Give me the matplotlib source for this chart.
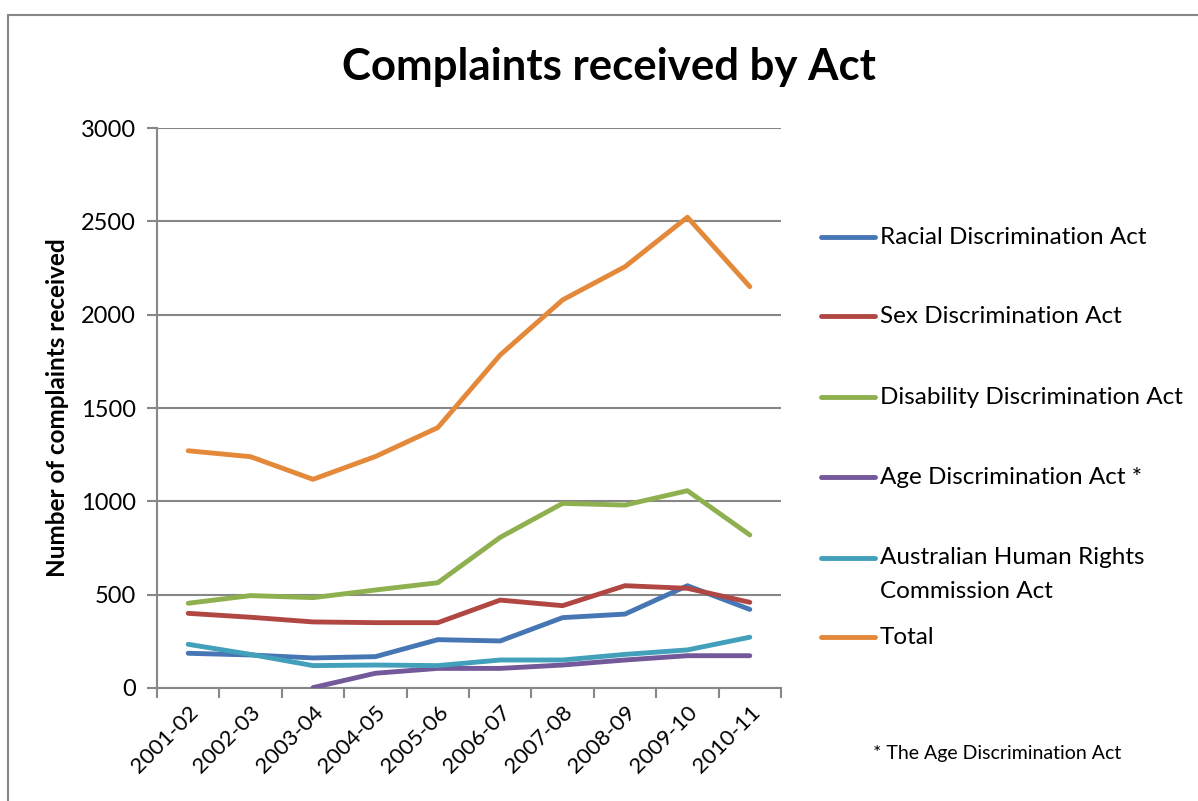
import numpy as np
from matplotlib import pyplot as plt
from matplotlib.lines import Line2D
from matplotlib.patches import Rectangle

years = ['2001-02', '2002-03', '2003-04', '2004-05', '2005-06',
         '2006-07', '2007-08', '2008-09', '2009-10', '2010-11']

racial = [186, 177, 161, 168, 259, 252, 377, 396, 548, 421]
sex = [400, 379, 354, 350, 350, 471, 441, 548, 534, 459]
disability = [454, 495, 484, 525, 564, 807, 989, 980, 1057, 820]
age = [np.nan, np.nan, 2, 79, 105, 105, 123, 150, 173, 173]
ahrc = [234, 180, 120, 123, 120, 150, 150, 180, 204, 272]
total = [1271, 1239, 1118, 1240, 1395, 1784, 2079, 2257, 2522, 2150]

series = [
    ('Racial Discrimination Act', racial, '#4676B4'),
    ('Sex Discrimination Act', sex, '#B14743'),
    ('Disability Discrimination Act', disability, '#8FB04F'),
    ('Age Discrimination Act *', age, '#74599A'),
    ('Australian Human Rights\nCommission Act', ahrc, '#42A0BA'),
    ('Total', total, '#E4883A'),
]

FONT = 'Lato'
GREY = '#878787'
W, H = 1198, 801

fig = plt.figure(figsize=(W / 100, H / 100), dpi=100)
ax = fig.add_axes([157 / W, 1 - 688 / H, 624 / W, 560 / H])

x = np.arange(len(years))
for name, vals, col in series:
    ax.plot(x, vals, color=col, lw=3.5, solid_capstyle='round', zorder=3)

ax.set_xlim(-0.5, len(years) - 0.5)
ax.set_ylim(0, 3000)
ax.set_yticks(np.arange(0, 3001, 500))
ax.yaxis.grid(True, color=GREY, lw=1.5)
ax.set_axisbelow(True)
for s in ['top', 'right']:
    ax.spines[s].set_visible(False)
for s in ['left', 'bottom']:
    ax.spines[s].set_color(GREY)
    ax.spines[s].set_linewidth(1.5)

ax.set_xticks(x)
ax.set_xticklabels(years, rotation=45, ha='right', va='top',
                   rotation_mode='anchor', fontsize=16, family=FONT)
ax.set_xticks(np.arange(-0.5, len(years), 1), minor=True)
ax.tick_params(axis='x', which='major', length=0, pad=10)
ax.tick_params(axis='x', which='minor', length=7, width=1.5, color=GREY)
ax.tick_params(axis='y', length=7, width=1.5, color=GREY, pad=8)
for lab in ax.get_yticklabels():
    lab.set_fontsize(17)
    lab.set_family(FONT)

ax.set_ylabel('Number of complaints received', fontsize=17.5,
              fontweight='bold', family=FONT, labelpad=9)

fig.text(609 / W, 1 - 67 / H, 'Complaints received by Act', ha='center',
         va='center', fontsize=31.5, fontweight='bold', family=FONT)

# legend drawn by hand so the two-line entry sits like the original
leg_y = [237, 316, 397, 477, 558, 637]
for (name, vals, col), yy in zip(series, leg_y):
    yf = 1 - yy / H
    fig.add_artist(Line2D([821 / W, 875 / W], [yf, yf], color=col, lw=3.5,
                          solid_capstyle='round', transform=fig.transFigure))
    for k, line in enumerate(name.split('\n')):
        fig.text(880 / W, 1 - (yy + 33 * k) / H, line, ha='left',
                 va='center', fontsize=17.5, family=FONT)

fig.text(873 / W, 1 - 753 / H, '* The Age Discrimination Act', ha='left',
         va='center', fontsize=14, family=FONT)

fig.add_artist(Rectangle((8 / W, -0.05), 1.1, 1 - 15 / H + 0.05, fill=False,
                         edgecolor=GREY, lw=1.5, transform=fig.transFigure))

fig.savefig('out.png', dpi=100)
